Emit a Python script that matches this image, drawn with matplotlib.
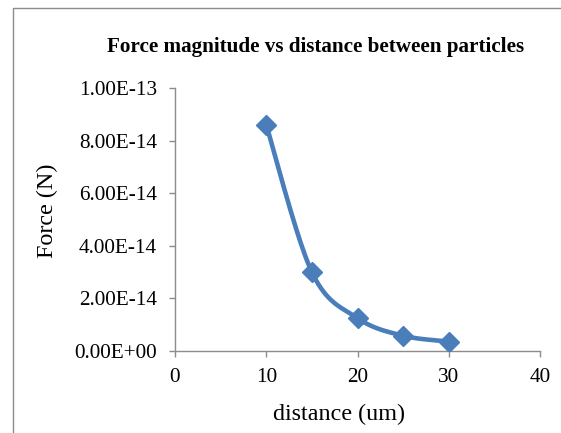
import numpy as np
import matplotlib
matplotlib.use("Agg")
import matplotlib.pyplot as plt
from matplotlib.patches import Rectangle

distance = [10, 15, 20, 25, 30]
force = [8.6e-14, 3.0e-14, 1.25e-14, 0.58e-14, 0.36e-14]
x_ticks = [0, 10, 20, 30, 40]
y_ticks = [0, 2e-14, 4e-14, 6e-14, 8e-14, 1e-13]
y_labels = ["0.00E+00", "2.00E-14", "4.00E-14", "6.00E-14", "8.00E-14", "1.00E-13"]

W, H = 561, 433
fig = plt.figure(figsize=(W / 100, H / 100), dpi=100)
plt.rcParams['font.family'] = ['Liberation Serif', 'DejaVu Serif']

# outer chart frame (cropped at right/bottom)
fig.patches.append(Rectangle((13 / W, -0.2), 1.2, 1 - 8 / H + 0.2, transform=fig.transFigure,
                             fill=False, edgecolor='#8c8c8c', linewidth=1.0))

ax = fig.add_axes([175 / W, 1 - 351 / H, (540 - 175) / W, (351 - 88) / H])

# Excel-like smoothed line (Bezier through points)
xs = np.array(distance, float)
ys = np.array(force, float)
n = len(xs)
cx, cy = [], []
t = np.linspace(0, 1, 40)
for i in range(n - 1):
    p0 = np.array([xs[max(i - 1, 0)], ys[max(i - 1, 0)]])
    p1 = np.array([xs[i], ys[i]])
    p2 = np.array([xs[i + 1], ys[i + 1]])
    p3 = np.array([xs[min(i + 2, n - 1)], ys[min(i + 2, n - 1)]])
    c1 = p1 + (p2 - p0) / 6
    c2 = p2 - (p3 - p1) / 6
    b = ((1 - t) ** 3)[:, None] * p1 + (3 * (1 - t) ** 2 * t)[:, None] * c1 + \
        (3 * (1 - t) * t ** 2)[:, None] * c2 + (t ** 3)[:, None] * p2
    cx.extend(b[:, 0]); cy.extend(b[:, 1])

ax.plot(cx, cy, color='#4A7EBB', linewidth=3.3, solid_capstyle='round', zorder=2)
ax.plot(distance, force, linestyle='none', marker='D', markersize=10,
        color='#4A7EBB', markeredgecolor='#4A7EBB', zorder=3)

ax.set_xlim(0, 40)
ax.set_ylim(0, 1e-13)
ax.set_xticks(x_ticks)
ax.set_xticklabels([str(v) for v in x_ticks])
ax.set_yticks(y_ticks)
ax.set_yticklabels(y_labels)
for s in ['top', 'right']:
    ax.spines[s].set_visible(False)
for s in ['left', 'bottom']:
    ax.spines[s].set_color('#8c8c8c')
    ax.spines[s].set_linewidth(1.0)
ax.tick_params(axis='both', direction='out', length=4, width=1.0, color='#8c8c8c',
               labelsize=15.3, labelcolor='black')
ax.tick_params(axis='x', pad=8.5)
ax.tick_params(axis='y', pad=9)

fig.text(316 / W, 1 - 47 / H, "Force magnitude vs distance between particles",
         ha='center', va='center', fontsize=15.2, fontweight='bold')
fig.text(47 / W, 1 - 211 / H, "Force (N)", ha='center', va='center', rotation=90, fontsize=17.4)
fig.text(339 / W, 1 - 414 / H, "distance (um)", ha='center', va='center', fontsize=17.4)

fig.savefig("out.png", dpi=100)
